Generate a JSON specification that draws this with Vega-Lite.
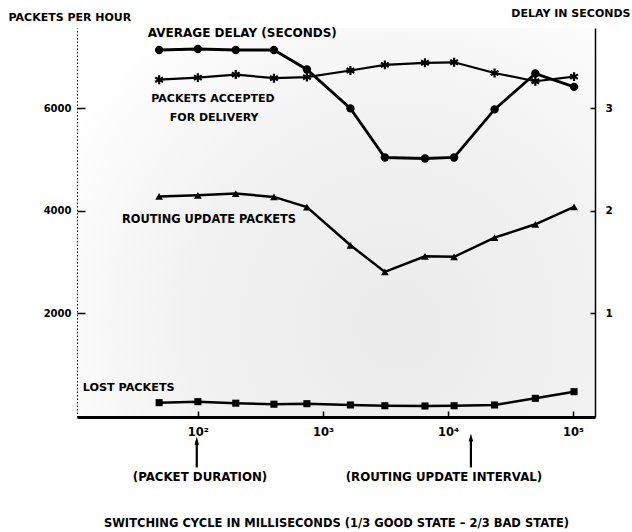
{
  "$schema": "https://vega.github.io/schema/vega-lite/v6.json",
  "width": 518,
  "height": 389,
  "autosize": {"type": "none"},
  "padding": {"left": 77, "top": 28, "right": 37, "bottom": 115},
  "background": "white",
  "config": {
    "font": "DejaVu Sans",
    "view": {"stroke": null},
    "axis": {"grid": false, "labelFont": "DejaVu Sans", "labelFontWeight": "bold", "labelColor": "#000", "titleFont": "DejaVu Sans", "titleFontWeight": "bold", "titleColor": "#000", "domainColor": "#000", "tickColor": "#000"}
  },
  "datasets": {
    "delay": [
      {"ms": 49, "seconds": 3.57}, {"ms": 100, "seconds": 3.58}, {"ms": 201, "seconds": 3.57}, {"ms": 406, "seconds": 3.57},
      {"ms": 745, "seconds": 3.38}, {"ms": 1660, "seconds": 3.0}, {"ms": 3130, "seconds": 2.52}, {"ms": 6550, "seconds": 2.51},
      {"ms": 11200, "seconds": 2.52}, {"ms": 23600, "seconds": 2.99}, {"ms": 50000, "seconds": 3.34}, {"ms": 102000, "seconds": 3.21}
    ],
    "accepted": [
      {"ms": 49, "packets": 6560}, {"ms": 100, "packets": 6600}, {"ms": 201, "packets": 6660}, {"ms": 406, "packets": 6590},
      {"ms": 745, "packets": 6610}, {"ms": 1660, "packets": 6740}, {"ms": 3130, "packets": 6850}, {"ms": 6550, "packets": 6890},
      {"ms": 11200, "packets": 6900}, {"ms": 23600, "packets": 6690}, {"ms": 50000, "packets": 6530}, {"ms": 102000, "packets": 6620}
    ],
    "routing": [
      {"ms": 49, "packets": 4280}, {"ms": 100, "packets": 4300}, {"ms": 201, "packets": 4335}, {"ms": 406, "packets": 4270},
      {"ms": 745, "packets": 4070}, {"ms": 1660, "packets": 3325}, {"ms": 3130, "packets": 2805}, {"ms": 6550, "packets": 3110},
      {"ms": 11200, "packets": 3100}, {"ms": 23600, "packets": 3475}, {"ms": 50000, "packets": 3735}, {"ms": 102000, "packets": 4075}
    ],
    "lost": [
      {"ms": 49, "packets": 250}, {"ms": 100, "packets": 270}, {"ms": 201, "packets": 240}, {"ms": 406, "packets": 220},
      {"ms": 745, "packets": 230}, {"ms": 1660, "packets": 205}, {"ms": 3130, "packets": 190}, {"ms": 6550, "packets": 185},
      {"ms": 11200, "packets": 190}, {"ms": 23600, "packets": 205}, {"ms": 50000, "packets": 335}, {"ms": 102000, "packets": 465}
    ]
  },
  "layer": [
    {
      "layer": [
        {
          "data": {"values": [{}]},
          "mark": {"type": "rect", "fill": {"gradient": "radial", "x1": 0.62, "y1": 0.7, "r1": 0, "x2": 0.62, "y2": 0.7, "r2": 0.75, "stops": [{"offset": 0, "color": "#ebebeb"}, {"offset": 0.55, "color": "#f2f2f2"}, {"offset": 1, "color": "#ffffff"}]}},
          "encoding": {
            "x": {"datum": 10.8, "type": "quantitative"},
            "x2": {"datum": 150000},
            "y": {"datum": -30, "type": "quantitative"},
            "y2": {"datum": 7570}
          }
        },
        {
          "data": {"name": "accepted"},
          "mark": {"type": "line", "color": "#000", "strokeWidth": 2.2, "point": {"shape": "M0,-1L0,1M-0.87,-0.5L0.87,0.5M-0.87,0.5L0.87,-0.5", "filled": false, "stroke": "#000", "strokeWidth": 2.2, "size": 80}},
          "encoding": {
            "x": {"field": "ms", "type": "quantitative", "scale": {"type": "log", "domain": [10.8, 150000], "nice": false, "zero": false},
              "axis": {"orient": "bottom", "zindex": 1, "values": [100, 1000, 10000, 100000], "labelExpr": "datum.value == 100 ? '10²' : datum.value == 1000 ? '10³' : datum.value == 10000 ? '10⁴' : '10⁵'", "labelFontSize": 11.5, "domainWidth": 3, "tickSize": -6, "tickWidth": 1.5, "labelPadding": 15, "title": "SWITCHING CYCLE IN MILLISECONDS (1/3 GOOD STATE – 2/3 BAD STATE)", "titleFontSize": 11.5, "titlePadding": 80}},
            "y": {"field": "packets", "type": "quantitative", "scale": {"domain": [-30, 7570], "nice": false, "zero": false},
              "axis": {"orient": "left", "zindex": 1, "values": [2000, 4000, 6000], "format": "d", "labelFontSize": 10, "domainDash": [1.5, 2], "domainWidth": 1, "tickSize": -8, "tickWidth": 1.5, "labelPadding": 14, "title": "PACKETS PER HOUR", "titleAngle": 0, "titleX": -69, "titleY": -11, "titleAlign": "left", "titleBaseline": "middle", "titleFontSize": 11}}
          }
        },
        {
          "data": {"name": "routing"},
          "mark": {"type": "line", "color": "#000", "strokeWidth": 2.5, "point": {"shape": "triangle-up", "filled": true, "color": "#000", "size": 60}},
          "encoding": {
            "x": {"field": "ms", "type": "quantitative"},
            "y": {"field": "packets", "type": "quantitative"}
          }
        },
        {
          "data": {"name": "lost"},
          "mark": {"type": "line", "color": "#000", "strokeWidth": 2.5, "point": {"shape": "square", "filled": true, "color": "#000", "size": 50}},
          "encoding": {
            "x": {"field": "ms", "type": "quantitative"},
            "y": {"field": "packets", "type": "quantitative"}
          }
        },
        {
          "data": {"values": [{}]},
          "mark": {"type": "text", "text": "AVERAGE DELAY  (SECONDS)", "align": "left", "baseline": "middle", "fontWeight": "bold", "fontSize": 12, "color": "#000"},
          "encoding": {"x": {"datum": 39.8, "type": "quantitative"}, "y": {"datum": 7482, "type": "quantitative"}}
        },
        {
          "data": {"values": [{}]},
          "mark": {"type": "text", "text": "PACKETS ACCEPTED", "align": "center", "baseline": "middle", "fontWeight": "bold", "fontSize": 11, "color": "#000"},
          "encoding": {"x": {"datum": 132, "type": "quantitative"}, "y": {"datum": 6175, "type": "quantitative"}}
        },
        {
          "data": {"values": [{}]},
          "mark": {"type": "text", "text": "FOR DELIVERY", "align": "center", "baseline": "middle", "fontWeight": "bold", "fontSize": 11, "color": "#000"},
          "encoding": {"x": {"datum": 135, "type": "quantitative"}, "y": {"datum": 5804, "type": "quantitative"}}
        },
        {
          "data": {"values": [{}]},
          "mark": {"type": "text", "text": "ROUTING UPDATE PACKETS", "align": "left", "baseline": "middle", "fontWeight": "bold", "fontSize": 11.4, "color": "#000"},
          "encoding": {"x": {"datum": 24.7, "type": "quantitative"}, "y": {"datum": 3814, "type": "quantitative"}}
        },
        {
          "data": {"values": [{}]},
          "mark": {"type": "text", "text": "LOST PACKETS", "align": "left", "baseline": "middle", "fontWeight": "bold", "fontSize": 11.2, "color": "#000"},
          "encoding": {"x": {"datum": 12.0, "type": "quantitative"}, "y": {"datum": 537, "type": "quantitative"}}
        },
        {
          "data": {"values": [{}]},
          "mark": {"type": "text", "text": "(PACKET DURATION)", "align": "center", "baseline": "middle", "fontWeight": "bold", "fontSize": 11.8, "color": "#000"},
          "encoding": {"x": {"datum": 104, "type": "quantitative"}, "y": {"datum": -1200, "type": "quantitative"}}
        },
        {
          "data": {"values": [{}]},
          "mark": {"type": "text", "text": "(ROUTING UPDATE INTERVAL)", "align": "center", "baseline": "middle", "fontWeight": "bold", "fontSize": 11.8, "color": "#000"},
          "encoding": {"x": {"datum": 9290, "type": "quantitative"}, "y": {"datum": -1200, "type": "quantitative"}}
        },
        {
          "data": {"values": [{}]},
          "mark": {"type": "rule", "color": "#000", "strokeWidth": 2.2},
          "encoding": {"x": {"datum": 98, "type": "quantitative"}, "y": {"datum": -1015, "type": "quantitative"}, "y2": {"datum": -500}}
        },
        {
          "data": {"values": [{}]},
          "mark": {"type": "point", "shape": "M0,-1L0.5,0.8L-0.5,0.8Z", "filled": true, "color": "#000", "size": 80, "opacity": 1},
          "encoding": {"x": {"datum": 98, "type": "quantitative"}, "y": {"datum": -500, "type": "quantitative"}}
        },
        {
          "data": {"values": [{}]},
          "mark": {"type": "rule", "color": "#000", "strokeWidth": 2.2},
          "encoding": {"x": {"datum": 15270, "type": "quantitative"}, "y": {"datum": -1015, "type": "quantitative"}, "y2": {"datum": -440}}
        },
        {
          "data": {"values": [{}]},
          "mark": {"type": "point", "shape": "M0,-1L0.5,0.8L-0.5,0.8Z", "filled": true, "color": "#000", "size": 80, "opacity": 1},
          "encoding": {"x": {"datum": 15270, "type": "quantitative"}, "y": {"datum": -440, "type": "quantitative"}}
        }
      ]
    },
    {
      "data": {"name": "delay"},
      "mark": {"type": "line", "color": "#000", "strokeWidth": 2.8, "point": {"shape": "circle", "filled": true, "color": "#000", "size": 70}},
      "encoding": {
        "x": {"field": "ms", "type": "quantitative"},
        "y": {"field": "seconds", "type": "quantitative", "scale": {"domain": [-0.015, 3.785], "nice": false, "zero": false},
          "axis": {"orient": "right", "zindex": 1, "values": [1, 2, 3], "format": "d", "labelFontSize": 10.5, "domainWidth": 1.5, "tickSize": -5, "tickWidth": 1.5, "labelPadding": 15, "title": "DELAY IN SECONDS", "titleAngle": 0, "titleX": 35, "titleY": -15, "titleAlign": "right", "titleBaseline": "middle", "titleFontSize": 11}}
      }
    }
  ],
  "resolve": {"scale": {"y": "independent"}}
}
